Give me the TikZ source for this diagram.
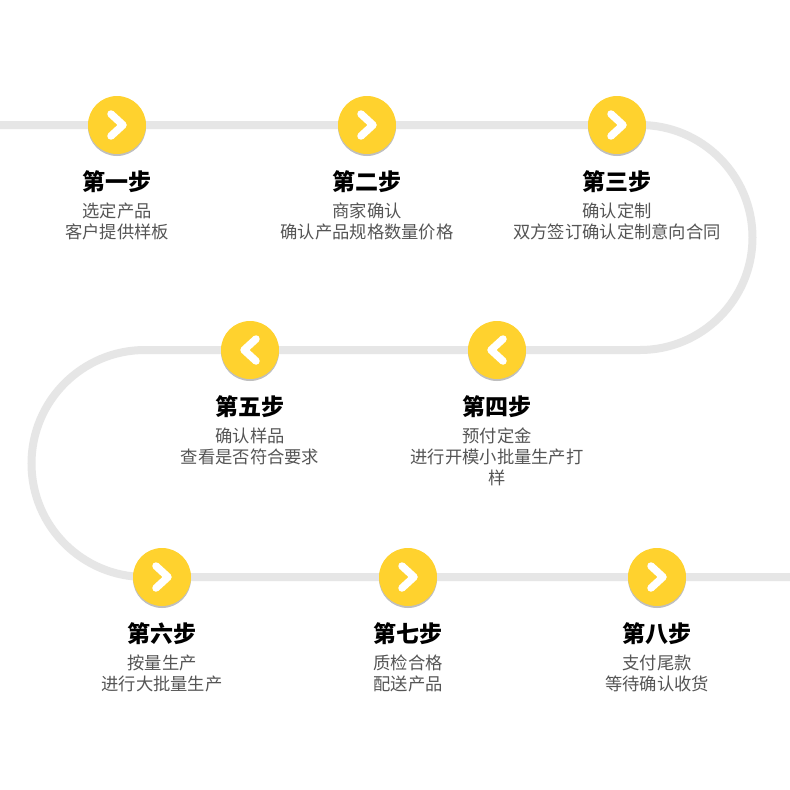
\documentclass[tikz,border=0pt]{standalone}
\usepackage{fontspec}
\setmainfont{Noto Sans CJK SC}
\usetikzlibrary{positioning}
\definecolor{track}{HTML}{E6E6E6}
\definecolor{sunny}{HTML}{FFD22E}
\definecolor{ink}{HTML}{555555}
\tikzset{x=1pt,y=-1pt,
        stepdot/.style={circle,fill=sunny,minimum size=58pt,inner sep=0pt},
        chev/.style={white,line width=7.5pt,line cap=round,line join=round},
        title/.style={font=\fontsize{23}{26}\selectfont\bfseries,text=black,inner sep=0pt},
        desc/.style={font=\fontsize{17.3}{21}\selectfont,text=ink,align=center,inner sep=0pt}
        }
\newcommand\stepnext[4]{% name, position, title, text
    \fill[black!25] ([yshift=-2pt]#2) circle (29pt);
    \node[stepdot] (#1) at (#2) {};
    \draw[chev] ([xshift=-6pt,yshift=-11pt]#1.center) -- ([xshift=6pt]#1.center) -- ([xshift=-6pt,yshift=11pt]#1.center);
    \node[title] (#1-t) at ([yshift=-57pt]#1.center) {#3};
    \node[desc,anchor=north] (#1-d) at ([yshift=-21pt]#1-t.center) {#4};
}
\newcommand\stepback[4]{%
    \fill[black!25] ([yshift=-2pt]#2) circle (29pt);
    \node[stepdot] (#1) at (#2) {};
    \draw[chev] ([xshift=6pt,yshift=-11pt]#1.center) -- ([xshift=-6pt]#1.center) -- ([xshift=6pt,yshift=11pt]#1.center);
    \node[title] (#1-t) at ([yshift=-57pt]#1.center) {#3};
    \node[desc,anchor=north] (#1-d) at ([yshift=-21pt]#1-t.center) {#4};
}
\begin{document}
\begin{tikzpicture}
    \useasboundingbox[fill=white] (0,0) rectangle (790,790);
    % 轨道
    \draw[track,line width=8pt] (0,125) -- (640,125) arc[start angle=-90,end angle=90,radius=112.5]
        -- (145,350) arc[start angle=-90,end angle=-270,radius=113.5] -- (790,577);
    % 八个步骤
    \stepnext{s1}{117,125}{第一步}{选定产品\\客户提供样板}
    \stepnext{s2}{367,125}{第二步}{商家确认\\确认产品规格数量价格}
    \stepnext{s3}{617,125}{第三步}{确认定制\\双方签订确认定制意向合同}
    \stepback{s4}{497,350}{第四步}{预付定金\\进行开模小批量生产打\\样}
    \stepback{s5}{250,350}{第五步}{确认样品\\查看是否符合要求}
    \stepnext{s6}{162,577}{第六步}{按量生产\\进行大批量生产}
    \stepnext{s7}{408,577}{第七步}{质检合格\\配送产品}
    \stepnext{s8}{657,577}{第八步}{支付尾款\\等待确认收货}
\end{tikzpicture}
\end{document}
